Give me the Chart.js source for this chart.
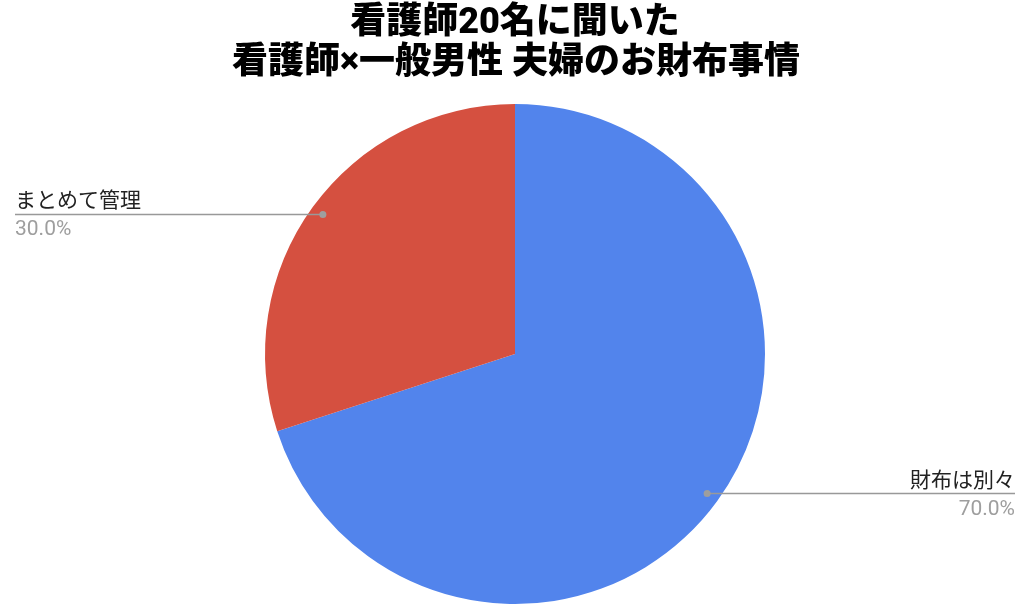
<!DOCTYPE html>
<html><head><meta charset="utf-8">
<script src="https://cdn.jsdelivr.net/npm/chart.js@4"></script>
<style>html,body{margin:0;padding:0;background:#fff}#wrap{width:1024px;height:613px}</style>
</head><body><div id="wrap"><canvas id="c" width="1024" height="613"></canvas></div>
<script>
const titleLines = ['看護師20名に聞いた', '看護師×一般男性 夫婦のお財布事情'];
const categories = ['財布は別々', 'まとめて管理'];
const values = [70, 30];
const colors = ['#5284EC', '#D55040'];

const CJK = '"Noto Sans CJK JP", "Noto Sans", sans-serif';
const LAT = 'Roboto, "Noto Sans CJK JP", sans-serif';

const labelPlugin = {
  id: 'calloutLabels',
  afterDraw(chart) {
    const ctx = chart.ctx;
    ctx.save();
    ctx.fillStyle = '#000';
    ctx.textAlign = 'center';
    ctx.textBaseline = 'middle';
    ctx.font = '900 36px ' + LAT;
    ctx.fillText(titleLines[0], 515, 24);
    ctx.fillText(titleLines[1], 516, 64);
    ctx.restore();

    const meta = chart.getDatasetMeta(0);
    const total = values.reduce((a, b) => a + b, 0);
    meta.data.forEach((arc, i) => {
      const p = arc.getProps(['x', 'y', 'startAngle', 'endAngle', 'outerRadius'], true);
      const mid = (p.startAngle + p.endAngle) / 2;
      const r = p.outerRadius * 0.95;
      const dx = p.x + Math.cos(mid) * r;
      const dy = p.y + Math.sin(mid) * r;
      const left = Math.cos(mid) < 0;
      const xEnd = left ? 15 : 1015;
      ctx.save();
      ctx.strokeStyle = '#999';
      ctx.lineWidth = 1.5;
      ctx.beginPath();
      ctx.moveTo(dx, dy);
      ctx.lineTo(xEnd, dy);
      ctx.stroke();
      ctx.fillStyle = '#9e9e9e';
      ctx.beginPath();
      ctx.arc(dx, dy, 3.5, 0, Math.PI * 2);
      ctx.fill();
      ctx.textAlign = left ? 'left' : 'right';
      const tx = left ? 15 : 1015;
      ctx.textBaseline = 'alphabetic';
      ctx.font = '21px ' + CJK;
      ctx.fillStyle = '#222';
      ctx.fillText(categories[i], tx, dy - 7);
      ctx.font = '21px ' + LAT;
      ctx.fillStyle = '#9e9e9e';
      ctx.fillText((values[i] / total * 100).toFixed(1) + '%', tx, dy + 21);
      ctx.restore();
    });
  }
};

new Chart(document.getElementById('c'), {
  type: 'pie',
  data: {
    labels: categories,
    datasets: [{ data: values, backgroundColor: colors, borderWidth: 0 }]
  },
  options: {
    responsive: false,
    animation: false,
    layout: { padding: { top: 104, bottom: 9, left: 6, right: 0 } },
    plugins: { legend: { display: false }, tooltip: { enabled: false }, title: { display: false } }
  },
  plugins: [labelPlugin]
});
</script>
</body></html>
